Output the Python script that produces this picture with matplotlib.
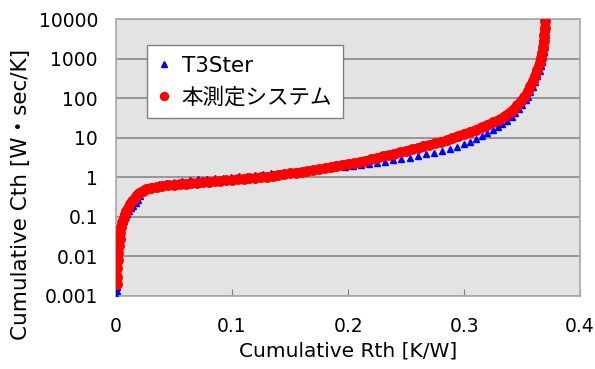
import matplotlib
matplotlib.use('Agg')
import matplotlib.pyplot as plt
from matplotlib.ticker import FixedLocator, FixedFormatter

plt.rcParams['font.family'] = ['DejaVu Sans', 'Noto Sans CJK JP']

# T3Ster reference data
t3_rth = [0.0003, 0.0005, 0.0007, 0.0009, 0.0012, 0.0015, 0.002, 0.0028, 0.0035, 0.0045,
          0.0055, 0.0068, 0.008, 0.0095, 0.011, 0.013, 0.015, 0.017, 0.019, 0.021,
          0.023, 0.025, 0.028, 0.032, 0.037, 0.043, 0.050, 0.057, 0.064, 0.071,
          0.078, 0.085, 0.092, 0.099, 0.106, 0.113, 0.120, 0.127, 0.134, 0.141,
          0.148, 0.155, 0.162, 0.169, 0.176, 0.183, 0.190, 0.197, 0.204, 0.211,
          0.218, 0.225, 0.232, 0.239, 0.246, 0.253, 0.260, 0.267, 0.274, 0.281,
          0.288, 0.294, 0.300, 0.305, 0.310, 0.315, 0.320, 0.325, 0.329, 0.333,
          0.337, 0.341, 0.344, 0.347, 0.350, 0.353, 0.355, 0.357, 0.359, 0.361,
          0.363, 0.365, 0.366, 0.367, 0.368, 0.369, 0.3695, 0.370, 0.3705, 0.371]
t3_cth = [0.001, 0.0013, 0.0017, 0.0023, 0.004, 0.007, 0.012, 0.02, 0.03, 0.045,
          0.06, 0.08, 0.1, 0.12, 0.14, 0.165, 0.19, 0.22, 0.27, 0.33,
          0.42, 0.5, 0.57, 0.62, 0.68, 0.73, 0.78, 0.82, 0.86, 0.89,
          0.92, 0.95, 0.98, 1.01, 1.05, 1.09, 1.14, 1.19, 1.25, 1.32,
          1.40, 1.48, 1.56, 1.63, 1.68, 1.72, 1.78, 1.84, 1.92, 2.03,
          2.15, 2.3, 2.48, 2.68, 2.9, 3.15, 3.45, 3.8, 4.2, 4.7,
          5.3, 6.0, 6.9, 7.9, 9.2, 10.8, 13, 15.5, 18.5, 22,
          27, 34, 42, 53, 68, 90, 110, 145, 190, 260,
          360, 500, 650, 850, 1100, 1500, 2000, 2800, 4000, 5500]

# this system's measurement
sys_rth = [0.0005, 0.0008, 0.0012, 0.0016, 0.002, 0.0025, 0.003, 0.0038, 0.0046, 0.0055,
           0.0065, 0.0078, 0.009, 0.0105, 0.012, 0.014, 0.016, 0.018, 0.020, 0.023,
           0.026, 0.030, 0.035, 0.040, 0.045, 0.050, 0.055, 0.060, 0.065, 0.070,
           0.075, 0.080, 0.085, 0.090, 0.095, 0.100, 0.105, 0.110, 0.115, 0.120,
           0.125, 0.130, 0.135, 0.140, 0.145, 0.150, 0.155, 0.160, 0.165, 0.170,
           0.175, 0.180, 0.185, 0.190, 0.195, 0.200, 0.205, 0.210, 0.215, 0.220,
           0.225, 0.230, 0.235, 0.240, 0.245, 0.250, 0.255, 0.260, 0.265, 0.270,
           0.275, 0.280, 0.285, 0.290, 0.295, 0.300, 0.305, 0.310, 0.315, 0.320,
           0.325, 0.330, 0.335, 0.340, 0.343, 0.346, 0.349, 0.352, 0.355, 0.357,
           0.359, 0.361, 0.363, 0.365, 0.366, 0.367, 0.368, 0.3685, 0.369, 0.3695, 0.370]
sys_cth = [0.002, 0.003, 0.005, 0.008, 0.012, 0.018, 0.027, 0.04, 0.055, 0.075,
           0.095, 0.115, 0.14, 0.17, 0.21, 0.25, 0.30, 0.36, 0.41, 0.46,
           0.51, 0.55, 0.58, 0.61, 0.63, 0.65, 0.67, 0.69, 0.71, 0.73,
           0.75, 0.77, 0.79, 0.82, 0.84, 0.86, 0.89, 0.92, 0.94, 0.97,
           1.0, 1.04, 1.09, 1.14, 1.19, 1.25, 1.31, 1.37, 1.44, 1.52,
           1.61, 1.71, 1.82, 1.93, 2.05, 2.18, 2.3, 2.45, 2.65, 2.9,
           3.15, 3.4, 3.7, 4.0, 4.3, 4.7, 5.1, 5.6, 6.1, 6.6,
           7.2, 7.9, 8.8, 10.0, 11.3, 12.7, 14.2, 16.0, 18.5, 21.5,
           25, 29, 36, 46, 55, 68, 85, 110, 150, 200,
           270, 370, 530, 800, 1050, 1400, 2000, 2800, 4000, 6000, 9000]

y_ticks = [0.001, 0.01, 0.1, 1, 10, 100, 1000, 10000]
y_labels = ['0.001', '0.01', '0.1', '1', '10', '100', '1000', '10000']
x_ticks = [0, 0.1, 0.2, 0.3, 0.4]
x_labels = ['0', '0.1', '0.2', '0.3', '0.4']

fig = plt.figure(figsize=(5.95, 3.69), dpi=100)
ax = fig.add_axes([0.195, 0.198, 0.78, 0.75])
ax.set_facecolor('#e3e3e3')

ax.plot(t3_rth, t3_cth, linestyle='none', marker='^', color='#0000ff',
        markersize=5, label='T3Ster', zorder=3)
ax.plot(sys_rth, sys_cth, linestyle='-', linewidth=6, color='#ff0000', zorder=4)
ax.plot(sys_rth, sys_cth, linestyle='none', marker='o', color='#ff0000',
        markersize=6.8, label='本測定システム', zorder=5)

ax.set_yscale('log')
ax.set_xlim(0, 0.4)
ax.set_ylim(0.001, 10000)
ax.yaxis.set_major_locator(FixedLocator(y_ticks))
ax.yaxis.set_major_formatter(FixedFormatter(y_labels))
ax.yaxis.set_minor_locator(FixedLocator([]))
ax.xaxis.set_major_locator(FixedLocator(x_ticks))
ax.xaxis.set_major_formatter(FixedFormatter(x_labels))

ax.grid(axis='y', color='#808080', linewidth=1.1, zorder=1)
ax.set_axisbelow(True)
ax.tick_params(axis='y', length=0, pad=13, labelsize=13.5)
ax.tick_params(axis='x', direction='in', length=5, color='#808080', pad=15, labelsize=13.5)
for s in ax.spines.values():
    s.set_color('#a8a8a8')
    s.set_linewidth(1.2)

ax.set_xlabel('Cumulative Rth [K/W]', fontsize=14.5, labelpad=4)
ax.set_ylabel('Cumulative Cth [W・sec/K]', fontsize=15.5)
ax.yaxis.set_label_coords(-0.183, 0.365)

leg = ax.legend(loc='upper left', bbox_to_anchor=(0.067, 0.906), borderaxespad=0,
                fontsize=15.5, frameon=True, fancybox=False, edgecolor='#808080',
                framealpha=1, handlelength=0.6, handletextpad=0.5, borderpad=0.5,
                labelspacing=0.5, markerscale=0.85)
leg.get_frame().set_linewidth(1.0)

fig.savefig('out.png', dpi=100)
